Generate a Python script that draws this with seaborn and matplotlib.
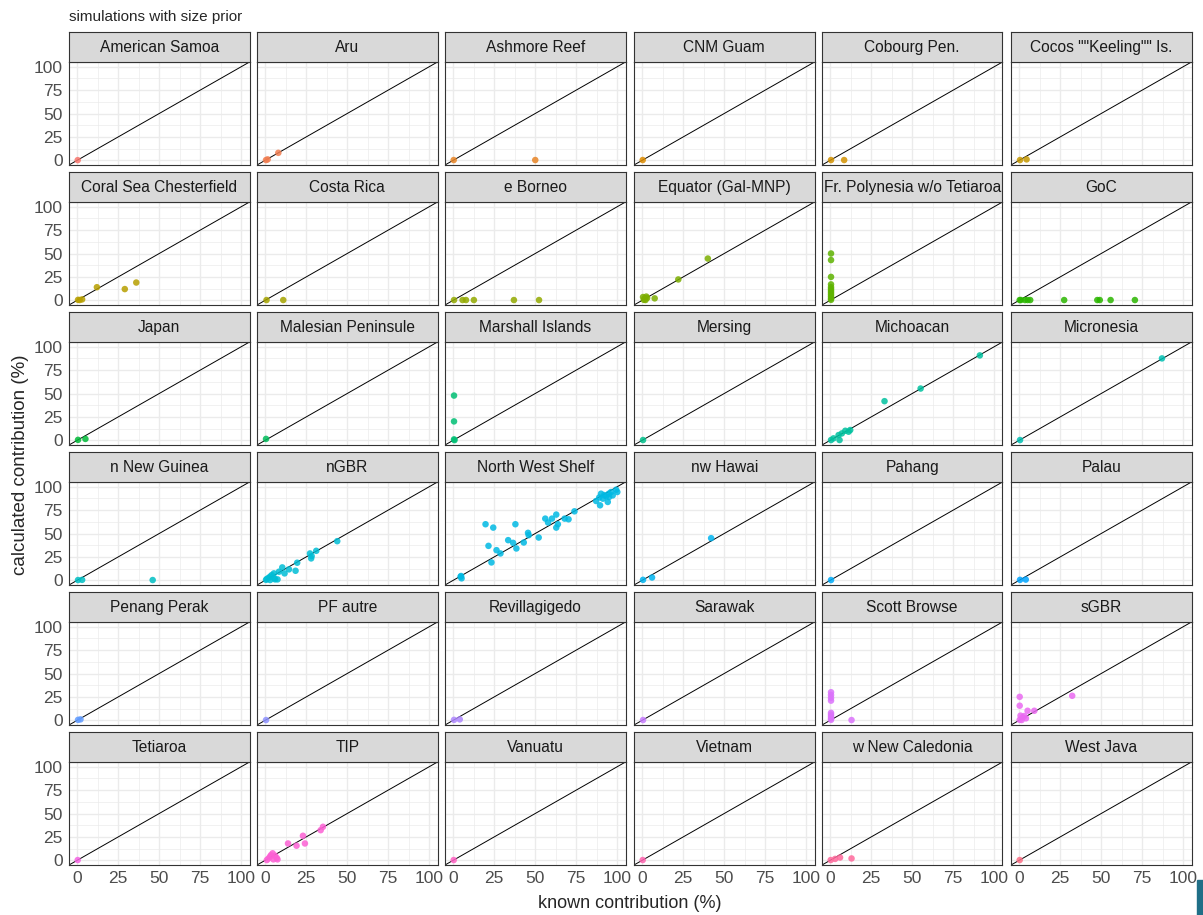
import numpy as np
import pandas as pd
import matplotlib
matplotlib.use("Agg")
import matplotlib.pyplot as plt
import seaborn as sns

sns.set_style("white")
plt.rcParams['font.family'] = ['Liberation Sans', 'DejaVu Sans']

# facet order (as in the reference)
regions = ["American Samoa", "Aru", "Ashmore Reef", "CNM Guam", "Cobourg Pen.",
           'Cocos ""Keeling"" Is.', "Coral Sea Chesterfield", "Costa Rica", "e Borneo",
           "Equator (Gal-MNP)", "Fr. Polynesia w/o Tetiaroa", "GoC", "Japan",
           "Malesian Peninsule", "Marshall Islands", "Mersing", "Michoacan", "Micronesia",
           "n New Guinea", "nGBR", "North West Shelf", "nw Hawai", "Pahang", "Palau",
           "Penang Perak", "PF autre", "Revillagigedo", "Sarawak", "Scott Browse", "sGBR",
           "Tetiaroa", "TIP", "Vanuatu", "Vietnam", "w New Caledonia", "West Java"]

# known contribution (%) per region
known_pct = [
    [0.3],
    [0.5, 1.5, 8],
    [0.3, 50],
    [0.3],
    [0.5, 8.5],
    [0.5, 4.5],
    [0.5, 1.5, 3, 12, 29, 36],
    [0.8, 11],
    [0.5, 5.7, 7.8, 12.6, 37, 52.3],
    [0.5, 1.5, 2.5, 3, 1, 2, 7.6, 22, 40],
    [0.5] * 12,
    [0.3, 1, 3.5, 5.1, 6.7, 27.4, 47.6, 49.1, 55.7, 70.5],
    [0.5, 5],
    [0.5],
    [0.5, 0.5, 0.5, 0.8],
    [0.5],
    [0.5, 2, 5.1, 5.7, 7.1, 9.2, 11.2, 12.2, 33.1, 55.1, 91.2],
    [0.5, 87],
    [0.5, 3, 46],
    [43.9, 31.1, 27.3, 28.3, 28, 19.5, 18.5, 14.5, 10.4, 11.8, 8.4, 5.3, 4, 3, 2, 1, 0.5,
     5.5, 7.5, 6, 3],
    [4.5, 5.1, 4.8, 19.7, 24.4, 21.5, 23.3, 26.4, 28.8, 33.5, 36.5, 37.9, 38.5, 43.0, 45.6,
     46.0, 52.1, 56.1, 57.8, 60.2, 62.8, 63.8, 62.8, 67.9, 70.3, 73.9, 87.1, 89.5, 90.1,
     91.2, 93.2, 94.2, 94.8, 96.2, 97.2, 99.3, 100, 89, 92, 95],
    [0.5, 6, 42],
    [0.5],
    [0.5, 4],
    [0.5, 2],
    [0.5],
    [0.5, 4],
    [0.5],
    [0.5] * 9 + [13],
    [0.3, 0.3, 0.3, 0.8, 1.5, 3.1, 4.1, 5.1, 9.2, 2, 32.3],
    [0.3],
    [1, 2, 3, 3.5, 4.5, 5, 6, 7, 7.5, 13.9, 19.1, 23, 24.2, 33.8, 35.2],
    [0.3],
    [0.3],
    [0.3, 3, 6, 13],
    [0.3],
]

# calculated contribution (%) per region
calc_pct = [
    [0.2],
    [0.3, 1, 8],
    [0.3, 0.3],
    [0.3],
    [0.3, 0.3],
    [0.3, 1],
    [0.5, 0.3, 1, 14, 12, 19],
    [0.3, 0.3],
    [0.3] * 6,
    [3.5, 2, 4, 2.5, 0.5, 0.3, 2.1, 22.3, 44.6],
    [50, 43, 25, 17, 14, 12, 10, 8, 6, 4, 2, 0.5],
    [0.3] * 10,
    [0.5, 1.5],
    [1.5],
    [47.8, 20.2, 1, 0.2],
    [0.3],
    [0.3, 2.1, 5.6, 0.3, 7.4, 10.2, 9.2, 11, 41.8, 55.3, 90.7],
    [0.3, 87.5],
    [0.3, 0.5, 0.3],
    [41.8, 31.5, 28.7, 25.9, 23.4, 18.8, 10.2, 11.7, 13.8, 7.4, 9.2, 7.4, 5.6, 4, 2.5, 1.5,
     0.5, 2, 1, 1, 0.3],
    [3.9, 2.1, 4.6, 59.9, 56.3, 36.8, 19.1, 32.2, 28.7, 42.9, 40.0, 59.9, 34.0, 40.4, 50.7,
     48.2, 45.7, 65.9, 61.7, 65.9, 70.2, 59.9, 56.3, 65.9, 65.2, 73.7, 84.7, 80.1, 92.5,
     87.2, 89.7, 83.7, 92.5, 94.3, 90.7, 96.8, 94.3, 88.5, 91, 89],
    [0.5, 3, 45],
    [0.3],
    [0.5, 0.8],
    [0.5, 1],
    [0.3],
    [0.5, 1],
    [0.3],
    [30, 27, 24, 21, 8, 6, 4, 2, 0.5, 0.3],
    [25.1, 15.6, 0.5, 5, 0.3, 4.6, 2.1, 10.2, 10.2, 3, 26.2],
    [0.3],
    [0.3, 2, 4, 5.5, 7.5, 1, 5, 2.5, 1, 18, 15.6, 26.2, 18, 32.2, 35.8],
    [0.3],
    [0.3],
    [0.3, 1.5, 3, 2],
    [0.3],
]

ticks = [0, 25, 50, 75, 100]


def hcl_colors(n, c=100, l=65):
    # ggplot2 default hue palette (grDevices::hcl)
    hues = np.linspace(15, 375, n + 1)[:-1]
    out = []
    for h in hues:
        hr = np.deg2rad(h)
        U, V = c * np.cos(hr), c * np.sin(hr)
        Y = 100 * ((l + 16) / 116) ** 3
        u = U / (13 * l) + 0.1978398
        v = V / (13 * l) + 0.4683363
        X = 9.0 * Y * u / (4 * v)
        Z = -X / 3 - 5 * Y + 3 * Y / v
        rgb = []
        for a, b, cc in [(3.240479, -1.537150, -0.498535),
                         (-0.969256, 1.875992, 0.041556),
                         (0.055648, -0.204043, 1.057311)]:
            t = (a * X + b * Y + cc * Z) / 100
            t = 1.055 * t ** (1 / 2.4) - 0.055 if t > 0.00304 else 12.92 * t
            rgb.append(min(max(t, 0), 1))
        out.append(tuple(rgb))
    return out


rows = []
for reg, kx, cy in zip(regions, known_pct, calc_pct):
    for a, b in zip(kx, cy):
        rows.append({'region': reg, 'known': a, 'calc': b})
df = pd.DataFrame(rows)
palette = dict(zip(regions, hcl_colors(len(regions))))

W, H = 1203, 915
fig = plt.figure(figsize=(W / 100, H / 100), dpi=100)

col_left = [69, 257, 445, 634, 822, 1011]
panel_w = 180.5
strip_top = [32, 172, 312, 452, 592, 732]
strip_h, panel_h = 30, 103

for k, reg in enumerate(regions):
    r, c = divmod(k, 6)
    x0 = col_left[c]
    ptop = strip_top[r] + strip_h
    ax = fig.add_axes([x0 / W, 1 - (ptop + panel_h) / H, panel_w / W, panel_h / H])
    sub = df[df['region'] == reg]
    ax.set_axisbelow(True)
    sns.scatterplot(data=sub, x='known', y='calc', color=palette[reg], s=22,
                    alpha=0.85, edgecolor='none', ax=ax, zorder=3)
    ax.axline((0, 0), slope=1, color='black', lw=0.7, zorder=2)
    ax.set_xlim(-5, 105)
    ax.set_ylim(-5, 105)
    ax.set_xticks(ticks)
    ax.set_yticks(ticks)
    ax.set_xticks(np.arange(12.5, 100, 25), minor=True)
    ax.set_yticks(np.arange(12.5, 100, 25), minor=True)
    ax.grid(which='major', color='#EBEBEB', lw=1.0)
    ax.grid(which='minor', color='#EBEBEB', lw=0.5)
    ax.set_xlabel('')
    ax.set_ylabel('')
    for sp in ax.spines.values():
        sp.set_color('#333333')
        sp.set_linewidth(0.8)
    ax.tick_params(which='minor', length=0)
    ax.tick_params(which='major', length=3, width=0.7, color='#333333',
                   labelsize=12.5, labelcolor='#4D4D4D', pad=1.5)
    if c != 0:
        ax.tick_params(axis='y', length=0, labelleft=False)
    if r != 5:
        ax.tick_params(axis='x', length=0, labelbottom=False)

    sax = fig.add_axes([x0 / W, 1 - (strip_top[r] + strip_h) / H, panel_w / W, strip_h / H])
    sax.set_facecolor('#D9D9D9')
    sax.set_xticks([])
    sax.set_yticks([])
    for sp in sax.spines.values():
        sp.set_color('#333333')
        sp.set_linewidth(0.8)
    sax.text(0.5, 0.47, reg, ha='center', va='center', fontsize=11.2,
             color='#1A1A1A', transform=sax.transAxes)

fig.text(69 / W, 1 - 17 / H, 'simulations with size prior', fontsize=11,
         ha='left', va='center')
fig.text(21 / W, 1 - 465 / H, 'calculated contribution (%)', fontsize=13.5,
         rotation=90, ha='center', va='center')
fig.text(630 / W, 1 - 904 / H, 'known contribution (%)', fontsize=13,
         ha='center', va='center')

# small teal block at the bottom-right edge of the reference image
fig.patches.append(plt.Rectangle((1197 / W, 0), 6 / W, 35 / H, color='#1F6F87',
                                 transform=fig.transFigure, figure=fig))

fig.savefig('out.png', dpi=100)
